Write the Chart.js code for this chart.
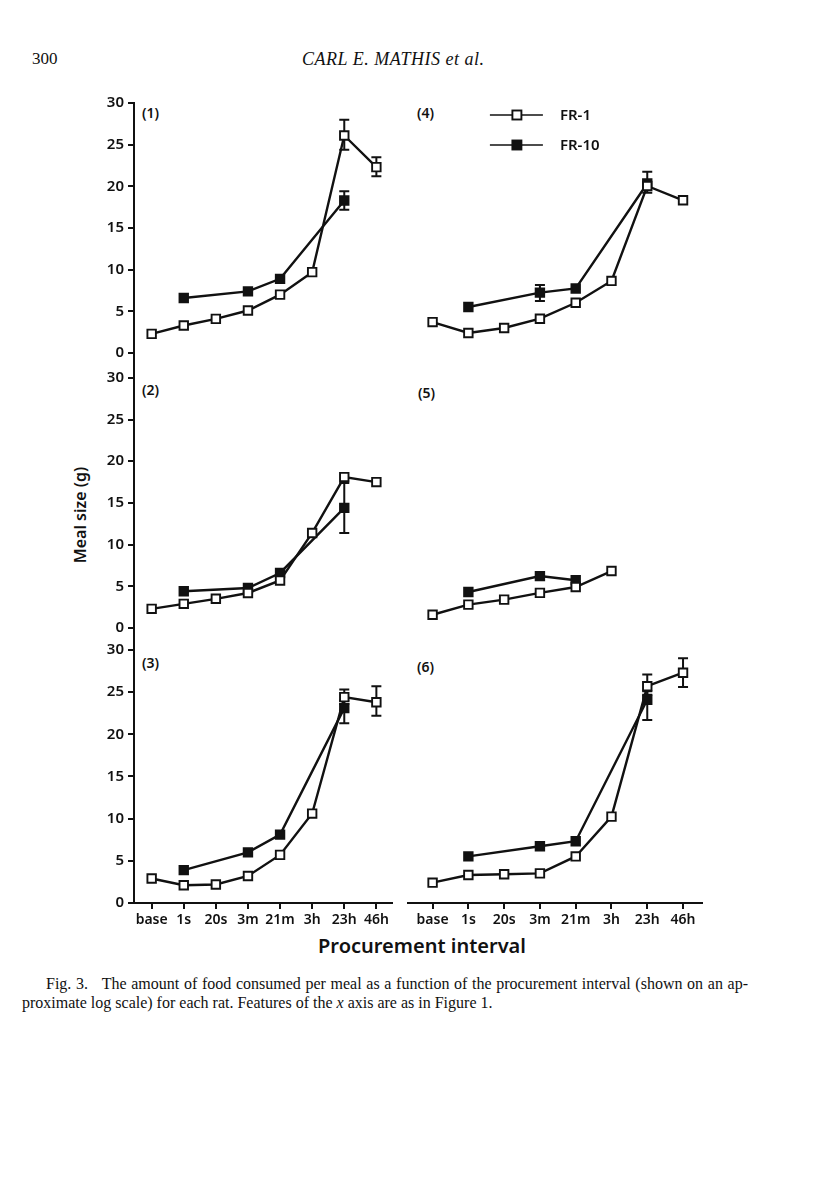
<!DOCTYPE html>
<html>
<head>
<meta charset="utf-8">
<script src="https://cdn.jsdelivr.net/npm/chart.js@4/dist/chart.umd.min.js"></script>
<style>
  body { margin: 0; background: #fff; width: 816px; height: 1200px; position: relative; overflow: hidden; color: #111; font-family: "Noto Sans", sans-serif; }
  canvas { position: absolute; }
  .t { position: absolute; white-space: nowrap; }
  .serif { font-family: "Liberation Serif", "DejaVu Serif", serif; }
  .lbl { font-size: 14px; font-weight: 600; }
</style>
</head>
<body>
<div class="t serif" style="left:32px;top:49px;font-size:17px">300</div>
<div class="t serif" style="left:302px;top:49px;font-size:18px;font-style:italic;letter-spacing:0.5px">CARL E. MATHIS et al.</div>

<div class="t lbl" style="left:142px;top:103px">(1)</div>
<div class="t lbl" style="left:417px;top:103px">(4)</div>
<div class="t lbl" style="left:142px;top:380px">(2)</div>
<div class="t lbl" style="left:418px;top:383px">(5)</div>
<div class="t lbl" style="left:142px;top:653px">(3)</div>
<div class="t lbl" style="left:417px;top:657px">(6)</div>

<div class="t" style="left:80px;top:515px;font-size:16px;font-weight:600;transform:translate(-50%,-50%) rotate(-90deg)">Meal size (g)</div>
<div class="t" style="left:422px;top:945px;font-size:20px;font-weight:600;transform:translate(-50%,-50%)">Procurement interval</div>

<div class="t serif" style="left:46px;top:975px;width:702px;font-size:16px;text-align:justify;text-align-last:justify;white-space:normal">Fig. 3.&nbsp;&nbsp; The amount of food consumed per meal as a function of the procurement interval (shown on an ap-</div>
<div class="t serif" style="left:22px;top:994px;font-size:16px">proximate log scale) for each rat. Features of the <i>x</i> axis are as in Figure 1.</div>

<script>
const intervals = ['base', '1s', '20s', '3m', '21m', '3h', '23h', '46h'];
const yTicks = [0, 5, 10, 15, 20, 25, 30];
const seriesNames = ['FR-1', 'FR-10'];

// rat 1
const rat1FR1 = [2.3, 3.3, 4.1, 5.1, 7.0, 9.7, 26.1, 22.3];
const rat1FR10 = [null, 6.6, null, 7.4, 8.9, null, 18.3, null];
const rat1FR1Err = [null, null, null, null, null, null, [24.4, 28.0], [21.2, 23.5]];
const rat1FR10Err = [null, null, null, null, null, null, [17.2, 19.4], null];

// rat 2
const rat2FR1 = [2.3, 2.9, 3.5, 4.2, 5.7, 11.4, 18.1, 17.5];
const rat2FR10 = [null, 4.4, null, 4.8, 6.6, null, 14.4, null];
const rat2FR1Err = [null, null, null, null, null, null, null, null];
const rat2FR10Err = [null, null, null, null, null, null, [11.4, 17.4], null];

// rat 3
const rat3FR1 = [2.9, 2.1, 2.2, 3.2, 5.7, 10.6, 24.4, 23.8];
const rat3FR10 = [null, 3.9, null, 6.0, 8.1, null, 23.1, null];
const rat3FR1Err = [null, null, null, null, null, null, [23.6, 25.3], [22.2, 25.7]];
const rat3FR10Err = [null, null, null, null, null, null, [21.3, 24.0], null];

// rat 4
const rat4FR1 = [3.8, 2.5, 3.1, 4.2, 6.1, 8.7, 20.0, 18.3];
const rat4FR10 = [null, 5.6, null, 7.3, 7.8, null, 20.3, null];
const rat4FR1Err = [null, null, null, null, null, null, null, null];
const rat4FR10Err = [null, null, null, [6.3, 8.2], null, null, [19.2, 21.7], null];

// rat 5
const rat5FR1 = [1.7, 2.9, 3.5, 4.3, 5.0, 6.9, null, null];
const rat5FR10 = [null, 4.4, null, 6.3, 5.8, null, null, null];
const rat5FR1Err = [null, null, null, null, null, null, null, null];
const rat5FR10Err = [null, null, null, null, null, null, null, null];

// rat 6
const rat6FR1 = [2.4, 3.3, 3.4, 3.5, 5.5, 10.2, 25.6, 27.2];
const rat6FR10 = [null, 5.5, null, 6.7, 7.3, null, 24.0, null];
const rat6FR1Err = [null, null, null, null, null, null, [24.6, 27.0], [25.5, 28.9]];
const rat6FR10Err = [null, null, null, null, null, null, [21.6, 25.0], null];

const ink = '#111';
const xTickFont = { family: '"Noto Sans", sans-serif', size: 14, weight: 600 };
const yTickFont = { family: '"Noto Sans", sans-serif', size: 15, weight: 600 };

// page geometry of the three rows and two columns
const rows = [
  { top: 102, zero: 354, yMax: 30 },
  { top: 354, zero: 629, yMax: 32.74 },
  { top: 629, zero: 903, yMax: 32.36 }
];
const cols = [
  { left: 0, width: 400, axisW: 134, padL: 0, padR: 3, xMin: -0.55, xMax: 7.49 },
  { left: 400, width: 310, axisW: 0, padL: 5, padR: 8, xMin: -0.69, xMax: 7.53 }
];

const errorBars = {
  id: 'errorBars',
  beforeDatasetsDraw(chart) {
    const { ctx, scales: { x, y } } = chart;
    ctx.save();
    ctx.strokeStyle = ink;
    ctx.lineWidth = 2;
    chart.data.datasets.forEach(ds => {
      (ds.errors || []).forEach((e, i) => {
        if (!e) return;
        const px = x.getPixelForValue(i);
        const lo = y.getPixelForValue(e[0]);
        const hi = y.getPixelForValue(e[1]);
        ctx.beginPath();
        ctx.moveTo(px, lo); ctx.lineTo(px, hi);
        ctx.moveTo(px - 5, lo); ctx.lineTo(px + 5, lo);
        ctx.moveTo(px - 5, hi); ctx.lineTo(px + 5, hi);
        ctx.stroke();
      });
    });
    ctx.restore();
  }
};

// legend drawn as a short line with the marker in its middle
const lineLegend = {
  id: 'lineLegend',
  afterDraw(chart, args, opts) {
    if (!opts.show) return;
    const { ctx, chartArea } = chart;
    ctx.save();
    chart.data.datasets.forEach((ds, i) => {
      const x0 = chartArea.left + opts.dx;
      const y0 = chartArea.top + opts.dy + i * opts.gap;
      ctx.strokeStyle = ds.borderColor;
      ctx.lineWidth = 1.6;
      ctx.beginPath(); ctx.moveTo(x0, y0); ctx.lineTo(x0 + 53, y0); ctx.stroke();
      ctx.lineWidth = ds.pointBorderWidth;
      ctx.fillStyle = ds.pointBackgroundColor;
      ctx.fillRect(x0 + 22.5, y0 - 4.5, 9, 9);
      ctx.strokeRect(x0 + 22.5, y0 - 4.5, 9, 9);
      ctx.fillStyle = ink;
      ctx.font = '600 15px "Noto Sans", sans-serif';
      ctx.textBaseline = 'middle';
      ctx.fillText(ds.label, x0 + 70, y0 + 1);
    });
    ctx.restore();
  }
};

const toPoints = vals => vals.map((v, i) => ({ x: i, y: v }));

function makePanel(p) {
  const row = rows[p.row], col = cols[p.col];
  const bottom = p.row === 2;
  const xH = bottom ? 30 : 0;
  const padBottom = bottom ? 5 : 12;
  const cTop = row.top - 12;
  const height = row.zero - cTop + xH + padBottom;

  const canvas = document.createElement('canvas');
  canvas.width = col.width;
  canvas.height = height;
  canvas.style.left = col.left + 'px';
  canvas.style.top = cTop + 'px';
  document.body.appendChild(canvas);

  new Chart(canvas, {
    type: 'line',
    data: {
      datasets: [
        {
          label: seriesNames[0], data: toPoints(p.fr1), errors: p.e1,
          borderColor: ink, borderWidth: 2.4, tension: 0, spanGaps: true,
          pointStyle: 'rect', pointRadius: 6, pointBorderWidth: 1.9,
          pointBackgroundColor: '#fff', pointBorderColor: ink
        },
        {
          label: seriesNames[1], data: toPoints(p.fr10), errors: p.e10,
          borderColor: ink, borderWidth: 2.4, tension: 0, spanGaps: true,
          pointStyle: 'rect', pointRadius: 6, pointBorderWidth: 1.9,
          pointBackgroundColor: ink, pointBorderColor: ink
        }
      ]
    },
    options: {
      responsive: false,
      animation: false,
      devicePixelRatio: 1,
      layout: { padding: { top: 12, bottom: padBottom, left: col.padL, right: col.padR } },
      plugins: {
        legend: { display: false },
        tooltip: { enabled: false },
        lineLegend: { show: p.legend === true, dx: 82, dy: 13, gap: 30 }
      },
      scales: {
        x: {
          type: 'linear',
          min: col.xMin,
          max: col.xMax,
          display: bottom,
          border: { display: true, color: ink, width: 2 },
          grid: { drawOnChartArea: false, drawTicks: true, tickLength: 6, color: ink, lineWidth: 2 },
          ticks: {
            color: ink, font: xTickFont, padding: 3, autoSkip: false, maxRotation: 0,
            callback: v => intervals[v] ?? ''
          },
          afterBuildTicks: s => { s.ticks = intervals.map((_, i) => ({ value: i })); },
          afterFit: s => { s.height = xH; }
        },
        y: {
          min: 0,
          max: row.yMax,
          display: col.axisW > 0,
          border: { display: true, color: ink, width: 2 },
          grid: { drawOnChartArea: false, drawTicks: true, tickLength: 6, color: ink, lineWidth: 2 },
          ticks: { color: ink, font: yTickFont, padding: 4 },
          afterBuildTicks: s => { s.ticks = yTicks.map(v => ({ value: v })); },
          afterFit: s => { s.width = col.axisW; }
        }
      }
    },
    plugins: [errorBars, lineLegend]
  });
}

[
  { row: 0, col: 0, fr1: rat1FR1, fr10: rat1FR10, e1: rat1FR1Err, e10: rat1FR10Err },
  { row: 1, col: 0, fr1: rat2FR1, fr10: rat2FR10, e1: rat2FR1Err, e10: rat2FR10Err },
  { row: 2, col: 0, fr1: rat3FR1, fr10: rat3FR10, e1: rat3FR1Err, e10: rat3FR10Err },
  { row: 0, col: 1, fr1: rat4FR1, fr10: rat4FR10, e1: rat4FR1Err, e10: rat4FR10Err, legend: true },
  { row: 1, col: 1, fr1: rat5FR1, fr10: rat5FR10, e1: rat5FR1Err, e10: rat5FR10Err },
  { row: 2, col: 1, fr1: rat6FR1, fr10: rat6FR10, e1: rat6FR1Err, e10: rat6FR10Err }
].forEach(makePanel);
</script>
</body>
</html>
